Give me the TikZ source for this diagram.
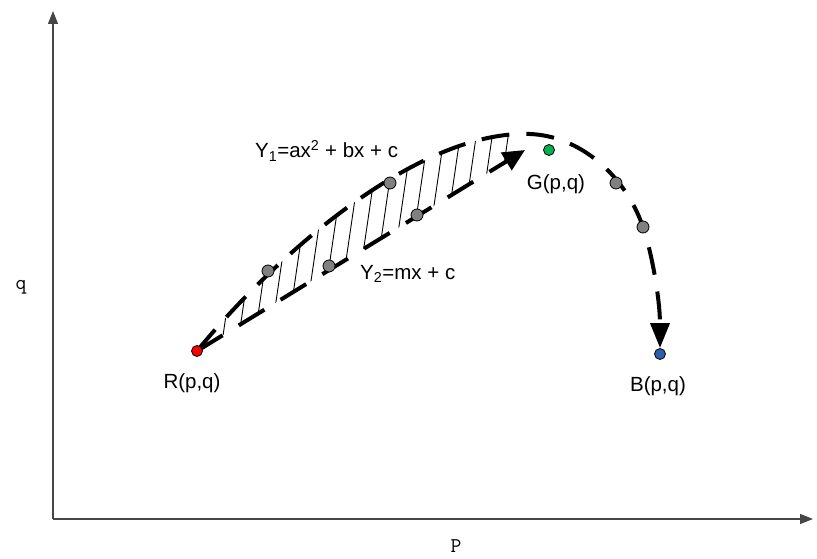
\documentclass[tikz,border=0pt]{standalone}
\usepackage{fontspec}
\setmainfont{Liberation Sans}
\usetikzlibrary{arrows.meta}
\definecolor{dotred}{RGB}{255,0,0}
\definecolor{dotgreen}{RGB}{0,176,80}
\definecolor{dotblue}{RGB}{46,94,170}
\definecolor{dotgray}{RGB}{128,128,128}
\definecolor{axisgray}{RGB}{70,70,70}
\tikzset{
  dot/.style={circle,draw=black,line width=0.8pt,inner sep=0pt,minimum size=11pt},
  graydot/.style={dot,fill=dotgray,minimum size=12pt},
  axisline/.style={draw=axisgray,line width=1.1pt,-{Triangle[length=13pt,width=10pt]}},
  curveline/.style={line width=4pt,dash pattern=on 28pt off 17pt,line cap=butt},
  hatchline/.style={line width=0.9pt},
  lbl/.style={font=\fontsize{20.5}{24}\selectfont,inner sep=0pt},
  axlbl/.style={font=\ttfamily\fontsize{21}{24}\selectfont,inner sep=0pt}
}
\begin{document}
\begin{tikzpicture}[x=1pt,y=-1pt]
\useasboundingbox (0,0) rectangle (817,559);
% axes
\coordinate (O) at (53,519);
\coordinate (Ytop) at (53,11);
\coordinate (Xend) at (813,519);
\draw[axisline] (O) -- (Ytop);
\draw[axisline] (O) -- (Xend);
\node[axlbl] (qlab) at (21,287) {q};
\node[axlbl] (plab) at (456,546) {P};
% dots positions
\coordinate (Rc) at (197,351);
\coordinate (Bc) at (660,354);
\coordinate (Gtip) at (525,150);
% hatching between the curves
\begin{scope}
  \clip (Rc) .. controls (280,250) and (420,130) .. (530,134) -- (Gtip) -- cycle;
  \clip (150,100) rectangle (509,400);
  \foreach \x in {170,186,...,520} {
    \draw[hatchline] (\x,370) -- (\x+38,110);
  }
\end{scope}
% lower line Y2
\draw[curveline,dash pattern=on 30pt off 19pt,-{Triangle[length=22pt,width=20pt]}] (Rc) -- (Gtip);
% upper curve Y1
\draw[curveline,-{Triangle[length=25pt,width=19pt]},shorten >=6pt]
  (Rc) .. controls (280,250) and (420,130) .. (530,134)
  .. controls (580,136) and (625,175) .. (643,227)
  .. controls (652,253) and (660,300) .. (Bc);
% dots
\node[dot,fill=dotred] (R) at (Rc) {};
\node[dot,fill=dotgreen] (G) at (549,150) {};
\node[dot,fill=dotblue] (B) at (Bc) {};
\node[graydot] (g1) at (268,271) {};
\node[graydot] (g2) at (329,266) {};
\node[graydot] (g3) at (390,183) {};
\node[graydot] (g4) at (417,215) {};
\node[graydot] (g5) at (616,183) {};
\node[graydot] (g6) at (643,227) {};
% labels
\node[lbl] (Rl) at (192,383) {R(p,q)};
\node[lbl] (Gl) at (556,184) {G(p,q)};
\node[lbl] (Bl) at (658,386) {B(p,q)};
\node[lbl,anchor=base west] (Y1) at (255,158) {Y\textsubscript{1}=ax\textsuperscript{2} + bx + c};
\node[lbl,anchor=base west] (Y2) at (360,279) {Y\textsubscript{2}=mx + c};
\end{tikzpicture}
\end{document}
